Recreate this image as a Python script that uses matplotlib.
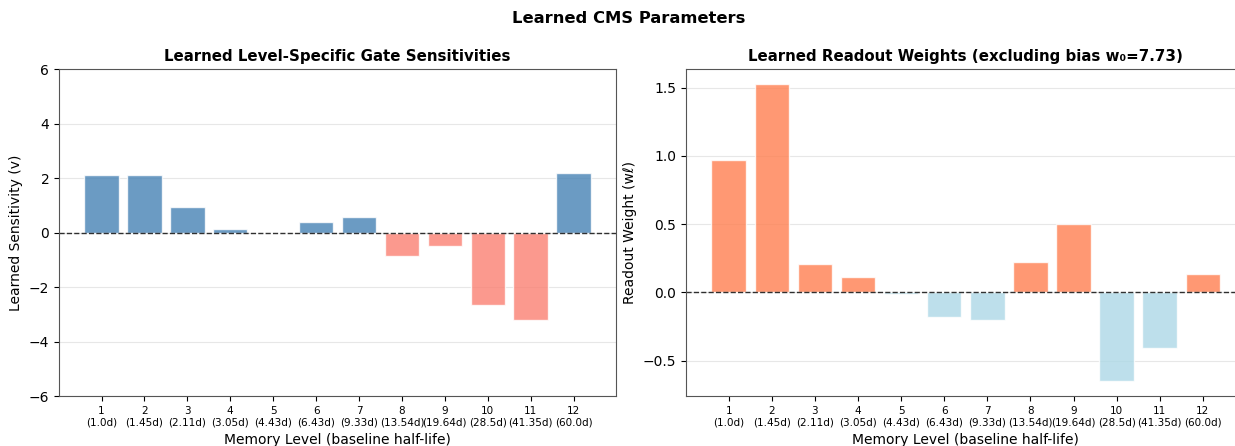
import numpy as np
import matplotlib
matplotlib.use('Agg')
import matplotlib.pyplot as plt

levels = list(range(1, 13))
half_lives = ['1.0', '1.45', '2.11', '3.05', '4.43', '6.43', '9.33', '13.54', '19.64', '28.5', '41.35', '60.0']
sensitivities = [2.10, 2.13, 0.95, 0.12, -0.02, 0.40, 0.57, -0.86, -0.50, -2.64, -3.20, 2.17]
readout_weights = [0.969, 1.527, 0.21, 0.112, -0.015, -0.18, -0.205, 0.222, 0.50, -0.651, -0.406, 0.137]
bias = 7.73

tick_labels = ['{}\n({}d)'.format(l, h) for l, h in zip(levels, half_lives)]

fig = plt.figure(figsize=(12.35, 4.46), dpi=100)
ax1 = fig.add_axes([0.0478, 0.112, 0.451, 0.733])
ax2 = fig.add_axes([0.5555, 0.112, 0.453, 0.733])

# gate sensitivities
colors1 = ['steelblue' if v > 0 else 'salmon' for v in sensitivities]
ax1.bar(levels, sensitivities, color=colors1, alpha=0.8, edgecolor='white')
ax1.axhline(0, color='black', linestyle='--', linewidth=1, alpha=0.8)
ax1.set_ylim(-6, 6)
ax1.set_xticks(levels)
ax1.set_xticklabels(tick_labels, fontsize=7.5)
ax1.set_xlabel('Memory Level (baseline half-life)', fontsize=10)
ax1.set_ylabel('Learned Sensitivity (v)', fontsize=10)
ax1.set_title('Learned Level-Specific Gate Sensitivities', fontsize=10.8, fontweight='bold')
ax1.grid(axis='y', alpha=0.3)
ax1.set_axisbelow(True)

# readout weights
colors2 = ['coral' if w > 0 else 'lightblue' for w in readout_weights]
ax2.bar(levels, readout_weights, color=colors2, alpha=0.8, edgecolor='white')
ax2.axhline(0, color='black', linestyle='--', linewidth=1, alpha=0.8)
ax2.set_xticks(levels)
ax2.set_xticklabels(tick_labels, fontsize=7.5)
ax2.set_xlabel('Memory Level (baseline half-life)', fontsize=10)
ax2.set_ylabel('Readout Weight (wℓ)', fontsize=10)
ax2.set_title('Learned Readout Weights (excluding bias w\u2080={:.2f})'.format(bias), fontsize=10.8, fontweight='bold')
ax2.grid(axis='y', alpha=0.3)
ax2.set_axisbelow(True)

for ax in (ax1, ax2):
    for s in ax.spines.values():
        s.set_color('#555555')

fig.suptitle('Learned CMS Parameters', fontsize=11.8, fontweight='bold', x=0.509, y=0.975)
fig.savefig('out.png', dpi=100)
